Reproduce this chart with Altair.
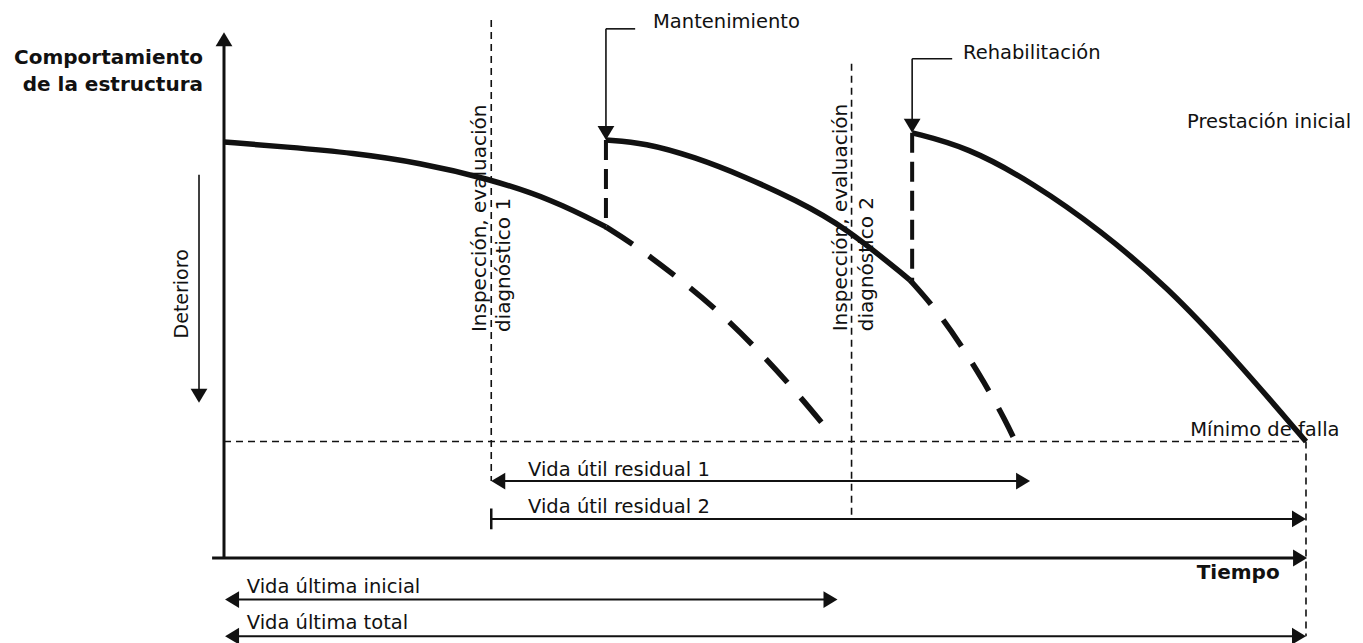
import altair as alt
import pandas as pd

# ---------------- data (time: % of total life, performance: % of initial) ----------
# solid performance curves
c1_t = [0, 5.8, 11.9, 18.1, 24.3, 30.4, 35.3]
c1_p = [100, 98.8, 97.4, 95.0, 91.3, 86.1, 79.6]
c2_t = [35.3, 38.9, 43.5, 48.2, 52.8, 57.4, 63.4]
c2_p = [100.5, 99.8, 96.4, 91.6, 86.1, 79.6, 66.8]
c3_t = [63.6, 68.7, 74.8, 81.0, 87.2, 93.3, 100]
c3_p = [102.2, 98.8, 90.1, 78.8, 65.1, 48.3, 28.0]
# projected (dashed) deterioration without intervention
d1_t = [35.3, 37.7, 41.9, 45.6, 49.1, 52.5, 55.8]
d1_p = [79.6, 75.7, 67.5, 59.6, 50.7, 41.1, 30.8]
d2_t = [63.4, 65.7, 68.0, 70.3, 72.2, 73.6]
d2_p = [66.8, 60.1, 51.7, 42.1, 33.2, 25.5]

# key events
t_insp1, t_maint, t_insp2, t_rehab, t_end = 24.7, 35.3, 58.0, 63.6, 100
t_resid1_end, t_ult_ini_end = 74.5, 56.7
p_min = 28
# rows of the interval arrows
p_res1, p_res2, p_ult_ini, p_ult_tot = 18.5, 9.4, -10.0, -18.8

labels_regular = ["Mantenimiento", "Rehabilitación", "Prestación inicial", "Mínimo de falla",
                  "Vida útil residual 1", "Vida útil residual 2", "Vida última inicial", "Vida última total"]
labels_regular_t = [39.65, 68.3, 89.0, 89.3, 28.1, 28.1, 2.1, 2.1]
labels_regular_p = [128.8, 121.4, 104.8, 30.8, 21.2, 12.3, -7.0, -15.6]

labels_rot = ["Inspección, evaluación", "diagnóstico 1", "Inspección, evaluación", "diagnóstico 2"]
labels_rot_t = [23.66, 25.9, 57.0, 59.4]
labels_rot_p = [54.3, 54.3, 54.5, 54.5]

# ---------------- tables ----------------
def curve_df(name, ts, ps):
    return pd.DataFrame({"curve": name, "t": ts, "p": ps, "i": list(range(len(ts)))})

solid = pd.concat([curve_df("c1", c1_t, c1_p), curve_df("c2", c2_t, c2_p), curve_df("c3", c3_t, c3_p)])
dashed = pd.concat([curve_df("d1", d1_t, d1_p), curve_df("d2", d2_t, d2_p)])

def seg(rows):
    return pd.DataFrame(rows, columns=["t", "p", "t2", "p2"])

axes_seg = seg([(0, 0, 0, 123.5), (-1.1, 0, 99, 0)])
thin_dash = seg([(t_insp1, 129.3, t_insp1, p_res1), (t_insp2, 118.8, t_insp2, p_res2),
                 (0, p_min, t_end, p_min), (t_end, p_min, t_end, p_ult_tot)])
thick_dash = seg([(t_maint, 100.5, t_maint, 79.0), (t_rehab, 102.2, t_rehab, 66.1)])
interval_seg = seg([(t_insp1 + 1, p_res1, t_resid1_end - 1, p_res1),
                    (t_insp1, p_res2, t_end - 1, p_res2),
                    (1, p_ult_ini, t_ult_ini_end - 1, p_ult_ini),
                    (1, p_ult_tot, t_end - 1, p_ult_tot)])
tick_seg = seg([(t_insp1, 11.9, t_insp1, 6.9)])
leader_seg = seg([(38.0, 127.2, t_maint, 127.2), (t_maint, 127.2, t_maint, 103),
                  (67.3, 120.0, t_rehab, 120.0), (t_rehab, 120.0, t_rehab, 105),
                  (-2.31, 92.1, -2.31, 40)])

heads = pd.DataFrame([
    (0, 126.4, 270), (100.1, 0, 0), (-2.31, 37.3, 90),
    (t_maint, 100.5, 90), (t_rehab, 102.2, 90),
    (t_insp1, p_res1, 180), (t_resid1_end, p_res1, 0), (t_end, p_res2, 0),
    (0.1, p_ult_ini, 180), (t_ult_ini_end, p_ult_ini, 0),
    (0.1, p_ult_tot, 180), (t_end, p_ult_tot, 0)], columns=["t", "p", "angle"])

txt_reg = pd.DataFrame({"t": labels_regular_t, "p": labels_regular_p, "label": labels_regular})
txt_rot = pd.DataFrame({"t": labels_rot_t, "p": labels_rot_p, "label": labels_rot})
txt_bold_r = pd.DataFrame({"t": [-1.94, -1.94], "p": [120.2, 113.7],
                           "label": ["Comportamiento", "de la estructura"]})
txt_bold_l = pd.DataFrame({"t": [89.9], "p": [-3.6], "label": ["Tiempo"]})
txt_det = pd.DataFrame({"t": [-3.88], "p": [63.5], "label": ["Deterioro"]})

# ---------------- encodings ----------------
XS = alt.Scale(domain=[-19.963, 104.529], nice=False, zero=False)
YS = alt.Scale(domain=[-19.71, 132.21], nice=False, zero=False)
X = alt.X("t:Q", scale=XS, axis=None)
Y = alt.Y("p:Q", scale=YS, axis=None)
INK = "#111111"
FONT = "DejaVu Sans"


def rules(df, width, dash=None):
    kw = dict(color=INK, strokeWidth=width)
    if dash:
        kw["strokeDash"] = dash
    return alt.Chart(df).mark_rule(**kw).encode(x=X, y=Y, x2="t2:Q", y2="p2:Q")


solid_layer = alt.Chart(solid).mark_line(color=INK, strokeWidth=5.5, interpolate="basis").encode(
    x=X, y=Y, detail="curve:N", order="i:Q")
dashed_layer = alt.Chart(dashed).mark_line(color=INK, strokeWidth=5.5, interpolate="basis",
                                           strokeDash=[32, 20]).encode(
    x=X, y=Y, detail="curve:N", order="i:Q")

head_layer = alt.Chart(heads).mark_point(
    shape="M0,0L-2,-1.2L-2,1.2Z", filled=True, color=INK, opacity=1, size=196, strokeWidth=0
).encode(x=X, y=Y, angle=alt.Angle("angle:Q", scale=None))

t_reg = alt.Chart(txt_reg).mark_text(font=FONT, fontSize=19.5, align="left", baseline="middle",
                                     color=INK).encode(x=X, y=Y, text="label:N")
t_rot = alt.Chart(txt_rot).mark_text(font=FONT, fontSize=20, align="left", baseline="middle",
                                     angle=270, color=INK).encode(x=X, y=Y, text="label:N")
t_det = alt.Chart(txt_det).mark_text(font=FONT, fontSize=19, align="center", baseline="middle",
                                     angle=270, color=INK).encode(x=X, y=Y, text="label:N")
t_br = alt.Chart(txt_bold_r).mark_text(font=FONT, fontSize=20, fontWeight="bold", align="right",
                                       baseline="middle", color=INK).encode(x=X, y=Y, text="label:N")
t_bl = alt.Chart(txt_bold_l).mark_text(font=FONT, fontSize=20, fontWeight="bold", align="left",
                                       baseline="middle", color=INK).encode(x=X, y=Y, text="label:N")

chart = alt.layer(
    rules(thin_dash, 1.6, [7, 5]),
    rules(thick_dash, 4, [20, 9]),
    rules(leader_seg, 1.6),
    rules(interval_seg, 2),
    rules(tick_seg, 2.5),
    rules(axes_seg, 3),
    dashed_layer,
    solid_layer,
    head_layer,
    t_reg, t_rot, t_det, t_br, t_bl,
).properties(width=1347, height=632, padding=0, background="white").configure_view(stroke=None)

chart.save("out.html", embed_options={"renderer": "svg", "actions": False})
